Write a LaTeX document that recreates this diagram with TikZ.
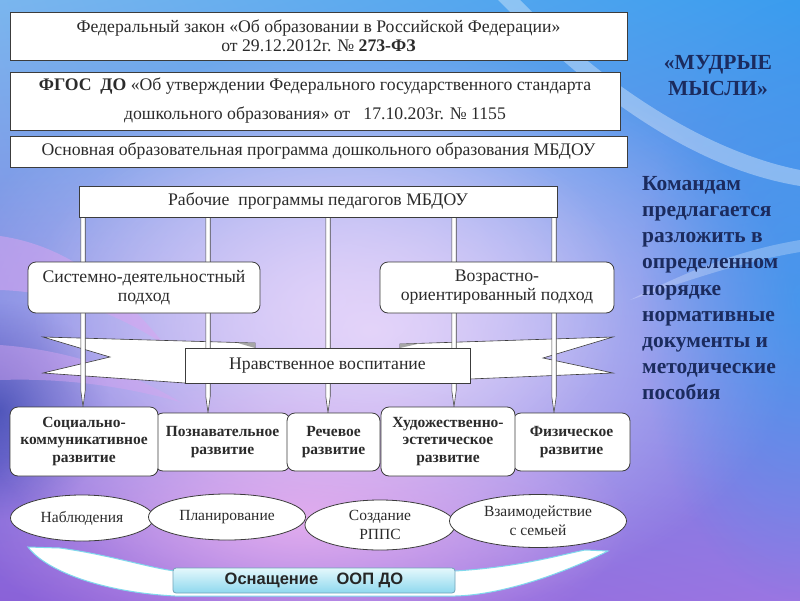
\documentclass[tikz,border=0pt]{standalone}
\usepackage{fontspec}
\setmainfont{Liberation Serif}
\newfontfamily\sansfam{Liberation Sans}
\usetikzlibrary{calc,fadings,shadings,shapes.geometric}
\tikzfading[name=softout, inner color=transparent!0, outer color=transparent!100]
\definecolor{navy}{HTML}{1B2B5E}
\definecolor{txt}{HTML}{2B2B2B}
\definecolor{edgec}{HTML}{3C3C3C}
\definecolor{bgUL}{HTML}{7AB6EE}
\definecolor{bgUR}{HTML}{3A9CEE}
\definecolor{bgLL}{HTML}{8A62D8}
\definecolor{bgLR}{HTML}{9A76E2}
\definecolor{lav}{HTML}{E4D4FA}
\definecolor{pinkb}{HTML}{F0B2F0}
\definecolor{pinkw}{HTML}{D8A4F0}
\definecolor{deepb}{HTML}{3A44B0}
\definecolor{cyanb}{HTML}{7FD8EC}
\definecolor{btnT}{HTML}{E4F8FC}
\definecolor{btnB}{HTML}{8ED8EE}
\newcommand{\fsz}[2]{\fontsize{#1}{#2}\selectfont}
\pgfdeclarelayer{bg}
\pgfdeclarelayer{mid}
\pgfsetlayers{bg,mid,main}
\begin{document}
\begin{tikzpicture}[x=1pt,y=-1pt,
  box/.style={draw=edgec, line width=0.8pt, fill=white, inner sep=0pt, text=txt, align=center, font=\fsz{17.7}{19}},
  rbox/.style={box, rounded corners=8pt},
  devbox/.style={rbox, font=\bfseries\fsz{15.5}{17.5}},
  oval/.style={ellipse, draw=edgec, line width=0.8pt, fill=white, inner sep=0pt, text=txt, align=center, font=\fsz{15.5}{18.5}},
  conn/.style={draw=gray!60!black, fill=white, line width=0.6pt, line join=miter},
  ribbon/.style={draw=edgec, fill=white, line width=0.6pt, line join=miter},
  navytext/.style={text=navy, font=\bfseries\fsz{21.5}{26.2}, inner sep=0pt}]
\useasboundingbox (0,0) rectangle (800,600);
\begin{pgfonlayer}{bg}
  \shade[upper left=bgUL, upper right=bgUR, lower left=bgLL, lower right=bgLR] (0,0) rectangle (800,600);
  \fill[deepb, path fading=softout, opacity=0.9] (0,410) ellipse (110 and 110);
  \fill[lav, path fading=softout] (370,330) ellipse (430 and 290);
  \fill[lav, path fading=softout, opacity=0.7] (330,300) ellipse (300 and 200);
  \fill[pinkb, path fading=softout, opacity=0.8] (300,520) ellipse (330 and 140);
  \fill[bgUR, path fading=softout, opacity=0.7] (800,300) ellipse (160 and 300);
  \fill[pinkw, opacity=0.55] (0,236) .. controls (70,246) and (120,290) .. (165,345) .. controls (115,312) and (60,292) .. (0,290) -- cycle;
  \fill[pinkw, opacity=0.45] (0,345) .. controls (70,350) and (130,372) .. (180,402) .. controls (120,385) and (60,378) .. (0,380) -- cycle;
  \fill[white, opacity=0.35] (520,0) .. controls (600,80) and (700,150) .. (800,170) -- (800,186) .. controls (690,168) and (590,92) .. (498,0) -- cycle;
  \fill[white, opacity=0.25] (630,300) .. controls (690,270) and (740,250) .. (800,240) -- (800,252) .. controls (740,262) and (690,280) .. (630,300) -- cycle;
  % bottom crescent
  \filldraw[fill=white, draw=cyanb, line width=1pt] (28,547) -- (60,548) .. controls (110,555) and (150,568) .. (175,571) -- (455,571) .. controls (520,567) and (560,555) .. (585,550) -- (608,551) .. controls (560,575) and (500,595) .. (455,596) -- (175,596) .. controls (100,592) and (45,570) .. cycle;
  % ribbon
  \path[ribbon] (43,337) -- (255,343) -- (255,362) -- (185,383) -- (43,373) -- (110,357) -- cycle;
  \path[ribbon] (613,337) -- (400,344) -- (400,362) -- (470,379) -- (613,373) -- (543,358) -- cycle;
  \fill[gray!70] (236,342.5) -- (255,343) -- (255,348) -- cycle;
  \fill[gray!70] (400,344) -- (420,343.4) -- (400,348) -- cycle;
\end{pgfonlayer}

\node[box, minimum width=617, minimum height=48] (fz) at (318.5,36) {Федеральный закон «Об образовании в Российской Федерации»\\от 29.12.2012г. № \textbf{273-ФЗ}};
\node[box, minimum width=610, minimum height=58, font=\fsz{17.7}{29}] (fgos) at (315,101) {\textbf{ФГОС\ \ ДО} «Об утверждении Федерального государственного стандарта\\дошкольного образования» от \ \ 17.10.203г. № 1155};
\node[box, minimum width=617, minimum height=31] (oop) at (318.5,151.5) {Основная образовательная программа дошкольного образования МБДОУ};
\node[box, minimum width=478, minimum height=31] (rab) at (318,201.5) {Рабочие\ \ программы педагогов МБДОУ};
\node[rbox, minimum width=232, minimum height=51] (sd) at (144,287.5) {Системно-деятельностный\\подход};
\node[rbox, minimum width=234, minimum height=51] (vo) at (497,287.5) {Возрастно-\\ориентированный подход};
\node[box, minimum width=285, minimum height=35] (nv) at (327.5,365.5) {Нравственное воспитание};

\node[devbox, minimum width=135, minimum height=58] (d2) at (222.5,442) {Познавательное\\развитие};
\node[devbox, minimum width=93, minimum height=58] (d3) at (333.5,442) {Речевое\\развитие};
\node[devbox, minimum width=117, minimum height=58] (d5) at (571.5,442) {Физическое\\развитие};
\node[devbox, minimum width=148, minimum height=69] (d1) at (84,441.5) {Социально-\\коммуникативное\\развитие};
\node[devbox, minimum width=134, minimum height=69] (d4) at (448,441.5) {Художественно-\\эстетическое\\развитие};

\coordinate (k1) at (83,0);
\coordinate (k2) at (208,0);
\coordinate (k3) at (328,0);
\coordinate (k4) at (454,0);
\coordinate (k5) at (554,0);
\begin{pgfonlayer}{mid}
\foreach \k/\d in {k1/d1,k2/d2,k3/d3,k4/d4,k5/d5}{
  \path[conn] ($(rab.south -| \k)+(-2.2,0)$) -- ($(\d.north -| \k)+(-2.2,-16)$) -- (\d.north -| \k) -- ($(\d.north -| \k)+(2.2,-16)$) -- ($(rab.south -| \k)+(2.2,0)$);
}
\end{pgfonlayer}

\node[oval, minimum width=143, minimum height=46] (o1) at (82,518) {Наблюдения};
\node[oval, minimum width=157, minimum height=46] (o2) at (227,517) {Планирование};
\node[oval, minimum width=150, minimum height=50] (o3) at (380,525) {Создание\\РППС};
\node[oval, minimum width=177, minimum height=53] (o4) at (538,521) {Взаимодействие\\с семьей};

\node[draw=cyan!40!gray, line width=0.8pt, rounded corners=3pt, top color=btnT, bottom color=btnB, minimum width=282, minimum height=25, inner sep=0pt, font=\sansfam\bfseries\fsz{16.5}{18}, text=black!85] (btn) at (314,580.5) {Оснащение\ \ \ \ ООП ДО};

\node[navytext, align=center] (title) at (718,75.5) {«МУДРЫЕ\\МЫСЛИ»};
\node[navytext, align=left, anchor=north west] (task) at (642,176) {Командам\\предлагается\\разложить в\\определенном\\порядке\\нормативные\\документы и\\методические\\пособия};
\end{tikzpicture}
\end{document}
